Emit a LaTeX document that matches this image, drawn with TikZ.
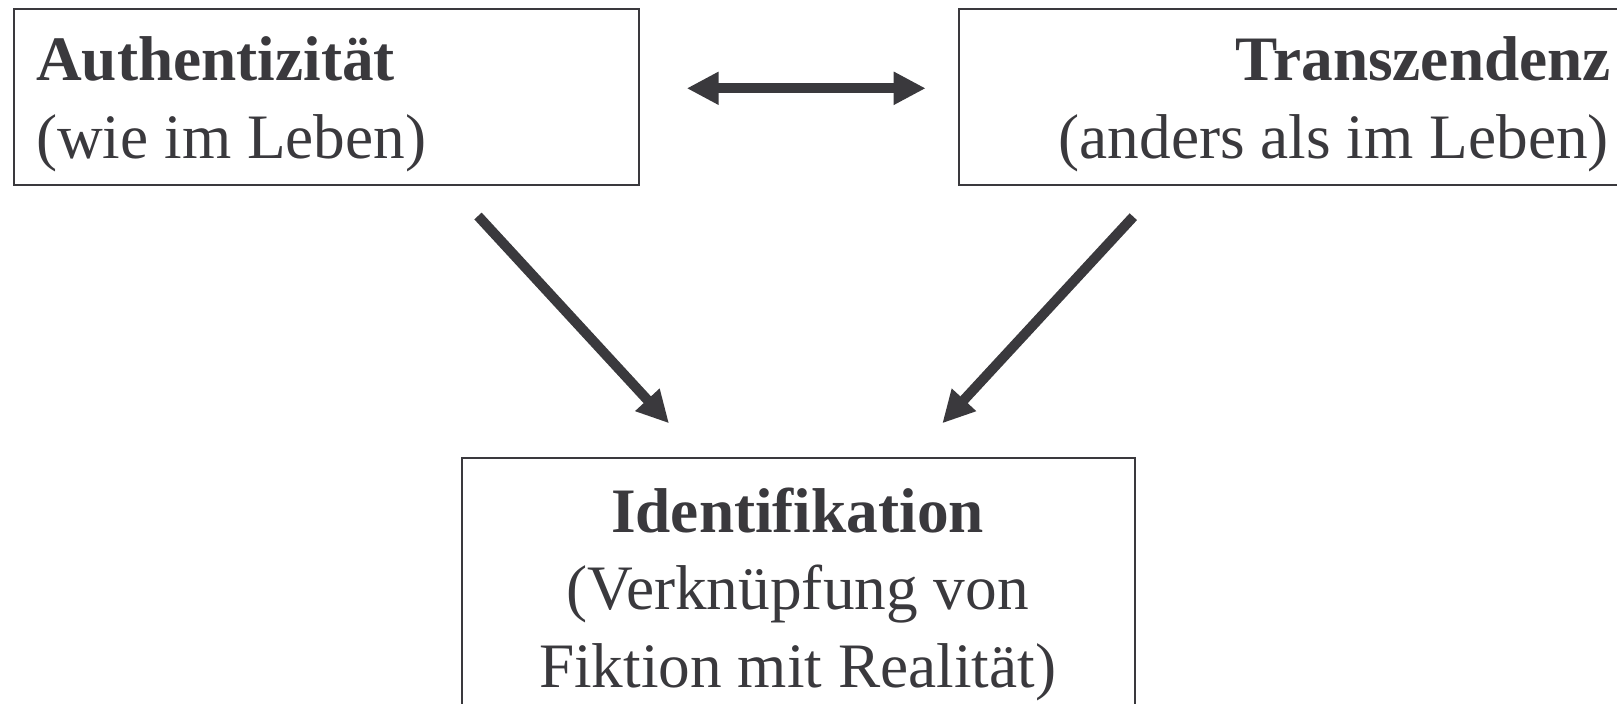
\documentclass[tikz,border=0pt]{standalone}
\usepackage{fontspec}
\setmainfont{Liberation Serif}
\usetikzlibrary{arrows.meta}
\definecolor{ink}{HTML}{3A393D}
\tikzset{
  boxshape/.style={draw=ink, line width=2pt, rectangle, inner sep=0pt, anchor=north west},
  lbl/.style={inner sep=0pt, text=ink, font=\fontsize{63.3pt}{76pt}\selectfont},
  bigarrow/.style={draw=ink, line width=10pt, -{Triangle[length=32pt,width=31pt]}, fill=ink},
  dblarrow/.style={draw=ink, line width=10pt, {Triangle[length=32pt,width=31pt]}-{Triangle[length=32pt,width=31pt]}, fill=ink}
}
\begin{document}
\begin{tikzpicture}[x=1pt,y=1pt]
\useasboundingbox (0,0) rectangle (1617,-704);
\clip (0,0) rectangle (1617,-704);
% boxes
\node[boxshape, minimum width=624.6pt, minimum height=175.4pt] (auth) at (13.4,-8.2) {};
\node[boxshape, minimum width=700pt, minimum height=175.4pt] (trans) at (958,-8.2) {};
\node[boxshape, minimum width=672.4pt, minimum height=300pt] (ident) at (461.3,-456.7) {};
% texts
\node[lbl, anchor=base west] (authA) at (36,-80.4) {\bfseries Authentizität};
\node[lbl, anchor=base west] (authB) at (36,-158) {(wie im Leben)};
\node[lbl, anchor=base east] (transA) at (1611,-80.4) {\bfseries Transzendenz};
\node[lbl, anchor=base east] (transB) at (1609,-158) {(anders als im Leben)};
\node[lbl, anchor=base] (identA) at (797.5,-532) {\bfseries Identifikation};
\node[lbl, anchor=base] (identB) at (797.5,-609.5) {(Verknüpfung von};
\node[lbl, anchor=base] (identC) at (797.5,-687) {Fiktion mit Realität)};
% arrow end points
\coordinate (dL) at (686.7,-88.3);
\coordinate (dR) at (925.7,-88.3);
\coordinate (aS) at (478,-216);
\coordinate (aE) at (669,-423.3);
\coordinate (tS) at (1133.3,-216.7);
\coordinate (tE) at (942.3,-423.3);
\draw[dblarrow] (dL) -- (dR);
\draw[bigarrow] (aS) -- (aE);
\draw[bigarrow] (tS) -- (tE);
\end{tikzpicture}
\end{document}
